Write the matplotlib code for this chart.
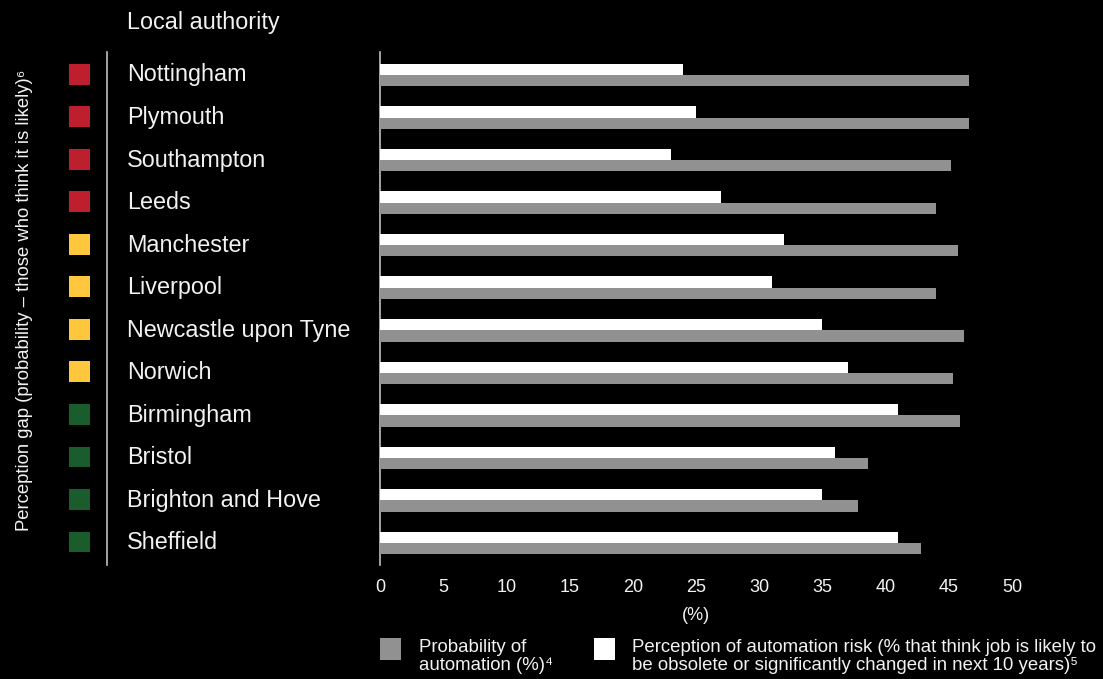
import matplotlib
matplotlib.use("Agg")
import matplotlib.pyplot as plt
from matplotlib.transforms import blended_transform_factory
from matplotlib.patches import Rectangle

plt.rcParams['font.family'] = ['Liberation Sans', 'DejaVu Sans']

cities = ["Nottingham", "Plymouth", "Southampton", "Leeds", "Manchester", "Liverpool",
          "Newcastle upon Tyne", "Norwich", "Birmingham", "Bristol", "Brighton and Hove", "Sheffield"]
probability = [46.6, 46.6, 45.2, 44.0, 45.7, 44.0, 46.2, 45.3, 45.9, 38.6, 37.8, 42.8]
perception = [24, 25, 23, 27, 32, 31, 35, 37, 41, 36, 35, 41]
gap_level = ["high", "high", "high", "high", "mid", "mid", "mid", "mid", "low", "low", "low", "low"]
xticks = [0, 5, 10, 15, 20, 25, 30, 35, 40, 45, 50]

gap_colors = {"high": "#BD1F2D", "mid": "#FFC73E", "low": "#1B5C2D"}
grey = "#919191"
txt = "#F2F2F2"

W, H = 1103, 679
fig = plt.figure(figsize=(W / 100, H / 100), dpi=100, facecolor="black")

ax_left, ax_right, ax_top, ax_bot = 380, 1012, 52, 565
ax = fig.add_axes([ax_left / W, 1 - ax_bot / H, (ax_right - ax_left) / W, (ax_bot - ax_top) / H])
ax.set_facecolor("black")

ypos = list(range(len(cities)))
bh = 0.265
ax.barh([y - 0.11 for y in ypos], perception, height=bh, color="white", zorder=3)
ax.barh([y + 0.155 for y in ypos], probability, height=bh, color=grey, zorder=3)

ax.set_xlim(0, 50)
ax.set_ylim(11.54, -0.52)
ax.set_xticks(xticks)
ax.set_xticklabels([str(t) for t in xticks], color=txt, fontsize=13)
ax.set_yticks([])
ax.tick_params(axis="x", length=0, pad=10)
for s in ["top", "right", "bottom"]:
    ax.spines[s].set_visible(False)
ax.spines["left"].set_color("#BFBFBF")
ax.spines["left"].set_linewidth(1.2)
ax.set_xlabel("(%)", color=txt, fontsize=13, labelpad=8)

tr = blended_transform_factory(fig.transFigure, ax.transData)
for y, c, g in zip(ypos, cities, gap_level):
    ax.text(127 / W, y + 0.02, c, transform=tr, color=txt, fontsize=16.8, va="center", ha="left")
    ax.add_patch(Rectangle((69 / W, y - 0.245), 21 / W, 0.49, transform=tr,
                           facecolor=gap_colors[g], edgecolor="none", clip_on=False))

# separator line
fig.add_artist(plt.Line2D([107 / W, 107 / W], [1 - ax_top / H, 1 - ax_bot / H],
                          color="#BFBFBF", linewidth=1.2))

fig.text(127 / W, 1 - 22 / H, "Local authority", color=txt, fontsize=16.8, va="center", ha="left")
fig.text(25 / W, 1 - 300 / H, "Perception gap (probability \u2013 those who think it is likely)\u2076",
         color=txt, fontsize=13.3, rotation=90, va="center", ha="center")

# legend
fig.add_artist(Rectangle((380 / W, 1 - 660 / H), 21 / W, 22 / H, facecolor=grey, edgecolor="none"))
fig.text(419 / W, 1 - 648 / H, "Probability of", color=txt, fontsize=13.4, va="center", ha="left")
fig.text(419 / W, 1 - 666 / H, "automation (%)\u2074", color=txt, fontsize=13.4, va="center", ha="left")
fig.add_artist(Rectangle((594 / W, 1 - 660 / H), 21 / W, 22 / H, facecolor="white", edgecolor="none"))
fig.text(632 / W, 1 - 648 / H, "Perception of automation risk (% that think job is likely to",
         color=txt, fontsize=13.4, va="center", ha="left")
fig.text(632 / W, 1 - 666 / H, "be obsolete or significantly changed in next 10 years)\u2075",
         color=txt, fontsize=13.4, va="center", ha="left")

fig.savefig("out.png", dpi=100, facecolor="black")
